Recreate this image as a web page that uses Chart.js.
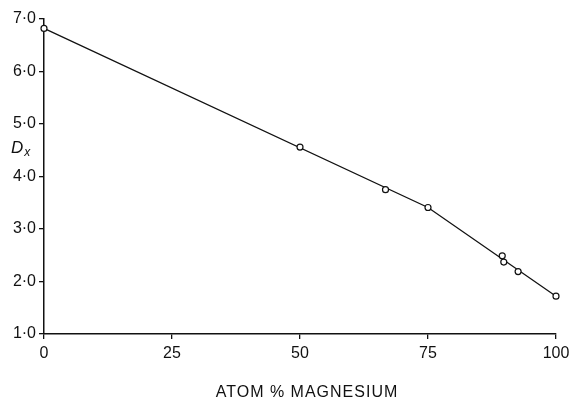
<!DOCTYPE html>
<html>
<head>
<meta charset="utf-8">
<script src="https://cdn.jsdelivr.net/npm/chart.js@4"></script>
<style>
  html, body { margin: 0; padding: 0; background: #fff; }
  #wrap { width: 571px; height: 402px; position: relative; }
</style>
</head>
<body>
<div id="wrap"><canvas id="chartDx"></canvas></div>
<script>
// measured points: atom % Mg vs Dx
const atomPct = [0, 50, 66.7, 75, 89.5, 89.8, 92.6, 100];
const dxValues = [6.82, 4.56, 3.75, 3.41, 2.49, 2.37, 2.19, 1.72];

// drawn curve (two straight segments, break at 75 %)
const lineX = [0, 75, 100];
const lineY = [6.82, 3.41, 1.72];

const xTicks = [0, 25, 50, 75, 100];
const yTicks = [1, 2, 3, 4, 5, 6, 7];

const xTitle = 'ATOM % MAGNESIUM';
const yTitle = 'D';
const yTitleSub = 'x';

const fontFamily = '"Liberation Sans", Arial, Helvetica, sans-serif';

function toPoints(xs, ys) {
    return xs.map(function (x, i) { return { x: x, y: ys[i] }; });
}

const axisLabels = {
    id: 'axisLabels',
    afterDraw: function (chart) {
        const ctx = chart.ctx;
        const area = chart.chartArea;
        ctx.save();
        ctx.fillStyle = '#111';
        ctx.textBaseline = 'middle';
        ctx.textAlign = 'center';
        ctx.font = '16px ' + fontFamily;
        ctx.letterSpacing = '1px';
        ctx.fillText(xTitle, (area.left + area.right) / 2 + 7, 393);
        ctx.letterSpacing = '0px';

        ctx.textAlign = 'left';
        ctx.font = 'italic 17px ' + fontFamily;
        ctx.fillText(yTitle, 11, 148);
        const w = ctx.measureText(yTitle).width;
        ctx.font = 'italic 12px ' + fontFamily;
        ctx.fillText(yTitleSub, 11 + w + 1, 153);
        ctx.restore();
    }
};

new Chart(document.getElementById('chartDx'), {
    type: 'scatter',
    data: {
        datasets: [
            {
                label: 'fit',
                data: toPoints(lineX, lineY),
                showLine: true,
                borderColor: '#111',
                borderWidth: 1.3,
                pointRadius: 0,
                tension: 0,
                clip: false,
                order: 2
            },
            {
                label: 'Dx',
                data: toPoints(atomPct, dxValues),
                showLine: false,
                pointRadius: 3,
                pointBorderWidth: 1.2,
                pointBorderColor: '#111',
                pointBackgroundColor: '#fff',
                clip: false,
                order: 1
            }
        ]
    },
    options: {
        responsive: true,
        maintainAspectRatio: false,
        animation: false,
        layout: { padding: { top: 19, right: 15, left: 0, bottom: 0 } },
        plugins: {
            legend: { display: false },
            tooltip: { enabled: false }
        },
        scales: {
            x: {
                type: 'linear',
                min: 0,
                max: 100,
                afterBuildTicks: function (scale) {
                    scale.ticks = xTicks.map(function (v) { return { value: v }; });
                },
                afterFit: function (scale) {
                    scale.height = 68;
                    scale.paddingLeft = 0;
                    scale.paddingRight = 0;
                },
                ticks: {
                    color: '#111',
                    font: { family: fontFamily, size: 16 },
                    padding: 5,
                    maxRotation: 0
                },
                grid: { display: true, drawOnChartArea: false, drawTicks: true, tickLength: 5, color: '#111', lineWidth: 1.3 },
                border: { display: true, color: '#111', width: 1.5 }
            },
            y: {
                type: 'linear',
                min: 1,
                max: 7,
                afterBuildTicks: function (scale) {
                    scale.ticks = yTicks.map(function (v) { return { value: v }; });
                },
                afterFit: function (scale) { scale.width = 44; },
                ticks: {
                    color: '#111',
                    font: { family: fontFamily, size: 16 },
                    padding: 3,
                    callback: function (v) { return v.toFixed(1).replace('.', '\u00b7'); }
                },
                grid: { display: true, drawOnChartArea: false, drawTicks: true, tickLength: 5, color: '#111', lineWidth: 1.3 },
                border: { display: true, color: '#111', width: 1.5 }
            }
        }
    },
    plugins: [axisLabels]
});
</script>
</body>
</html>
